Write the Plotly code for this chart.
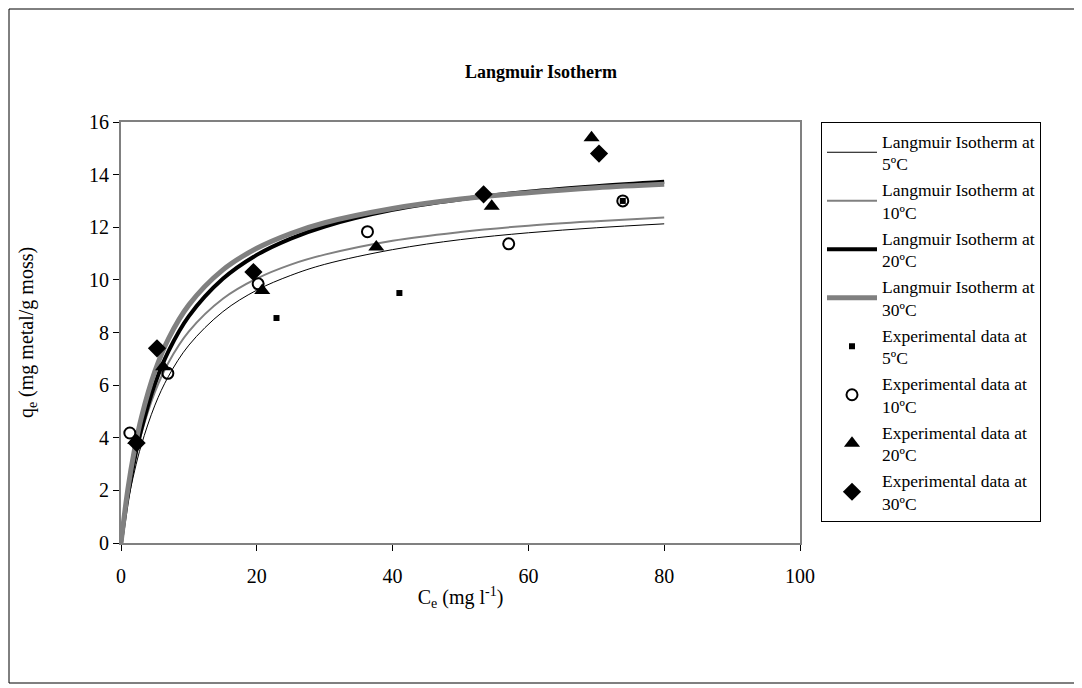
import plotly.graph_objects as go

# Langmuir fitted curves
ce_curve = [0, 1, 2, 3, 5, 7, 10, 15, 20, 25, 30, 40, 50, 60, 70, 80]
q_fit_5 = [0, 1.53, 2.74, 3.73, 5.24, 6.34, 7.52, 8.79, 9.61, 10.17, 10.59, 11.15, 11.53, 11.79, 11.98, 12.13]
q_fit_10 = [0, 1.75, 3.09, 4.16, 5.74, 6.86, 8.04, 9.28, 10.05, 10.58, 10.96, 11.49, 11.82, 12.06, 12.23, 12.37]
q_fit_20 = [0, 1.78, 3.19, 4.32, 6.05, 7.29, 8.62, 10.04, 10.95, 11.57, 12.03, 12.66, 13.06, 13.35, 13.56, 13.73]
q_fit_30 = [0, 2.03, 3.56, 4.77, 6.53, 7.77, 9.05, 10.38, 11.20, 11.76, 12.17, 12.71, 13.07, 13.31, 13.50, 13.63]

# Experimental data
ce_exp_5 = [22.9, 41.0, 73.9]
q_exp_5 = [8.55, 9.5, 13.0]
ce_exp_10 = [1.3, 6.9, 20.2, 36.3, 57.1, 73.9]
q_exp_10 = [4.18, 6.45, 9.85, 11.83, 11.37, 13.0]
ce_exp_20 = [2.1, 6.2, 20.8, 37.6, 54.6, 69.3]
q_exp_20 = [3.9, 6.7, 9.6, 11.25, 12.8, 15.4]
ce_exp_30 = [2.3, 5.3, 19.5, 53.4, 70.4]
q_exp_30 = [3.8, 7.4, 10.3, 13.25, 14.8]

x_ticks = [0, 20, 40, 60, 80, 100]
y_ticks = [0, 2, 4, 6, 8, 10, 12, 14, 16]

FONT = "Liberation Serif, Times New Roman, serif"
GRAY = "#808080"

fig = go.Figure()

fig.add_trace(go.Scatter(x=ce_curve, y=q_fit_5, mode="lines", line=dict(color="black", width=1, shape="spline"),
                         name="Langmuir Isotherm at<br>5ºC"))
fig.add_trace(go.Scatter(x=ce_curve, y=q_fit_10, mode="lines", line=dict(color=GRAY, width=2, shape="spline"),
                         name="Langmuir Isotherm at<br>10ºC"))
fig.add_trace(go.Scatter(x=ce_curve, y=q_fit_20, mode="lines", line=dict(color="black", width=4, shape="spline"),
                         name="Langmuir Isotherm at<br>20ºC"))
fig.add_trace(go.Scatter(x=ce_curve, y=q_fit_30, mode="lines", line=dict(color=GRAY, width=5, shape="spline"),
                         name="Langmuir Isotherm at<br>30ºC"))

fig.add_trace(go.Scatter(x=ce_exp_5, y=q_exp_5, mode="markers",
                         marker=dict(symbol="square", size=6, color="black"),
                         name="Experimental data at<br>5ºC"))
fig.add_trace(go.Scatter(x=ce_exp_10, y=q_exp_10, mode="markers",
                         marker=dict(symbol="circle-open", size=11, color="black", line=dict(width=2)),
                         name="Experimental data at<br>10ºC"))
fig.add_trace(go.Scatter(x=ce_exp_20, y=q_exp_20, mode="markers",
                         marker=dict(symbol="triangle-up", size=14, color="black"),
                         name="Experimental data at<br>20ºC"))
fig.add_trace(go.Scatter(x=ce_exp_30, y=q_exp_30, mode="markers",
                         marker=dict(symbol="diamond", size=14, color="black"),
                         name="Experimental data at<br>30ºC"))

# page offset of the browser's default body margin
OFF = 8
W, H = 1082 - OFF, 688 - OFF
L, R, T, B = 121 - OFF, 800 - OFF, 122 - OFF, 543 - OFF
pw, ph = R - L, B - T

def px2x(px):
    return (px - L) / pw

def py2y(py):
    return (B - py) / ph

fig.update_layout(
    width=W, height=H,
    margin=dict(l=L, r=W - R, t=T, b=H - B, autoexpand=False),
    paper_bgcolor="white", plot_bgcolor="white",
    font=dict(family=FONT, color="black", size=20),
    title=dict(text="<b>Langmuir Isotherm</b>", x=(541 - OFF) / W, xref="container", xanchor="center",
               y=1 - (72 - OFF) / H, yref="container", yanchor="middle", font=dict(size=18, family=FONT)),
    showlegend=True,
    legend=dict(x=px2x(821 - OFF), y=1.0, xref="paper", yref="paper",
                xanchor="left", yanchor="top",
                bordercolor="black", borderwidth=1, bgcolor="white",
                font=dict(size=17.5, family=FONT), tracegroupgap=0, itemwidth=50),
    xaxis=dict(range=[0, 100], tickvals=x_ticks, ticks="outside", ticklen=6, tickcolor="black",
               showline=True, linecolor=GRAY, linewidth=2, mirror=True, showgrid=False, zeroline=False,
               ticklabelstandoff=8,
               tickfont=dict(size=20), title=dict(text="C<sub>e</sub> (mg l<sup>-1</sup>)", font=dict(size=20), standoff=4)),
    yaxis=dict(range=[0, 16], tickvals=y_ticks, ticks="outside", ticklen=6, tickcolor="black",
               showline=True, linecolor=GRAY, linewidth=2, mirror=True, showgrid=False, zeroline=False,
               tickfont=dict(size=20), title=dict(text="q<sub>e</sub> (mg metal/g moss)", font=dict(size=20), standoff=50)),
    shapes=[dict(type="rect", xref="paper", yref="paper",
                 x0=px2x(1), x1=px2x(1077 - OFF), y0=py2y(683 - OFF), y1=py2y(1),
                 line=dict(color="black", width=1), layer="below")],
)

fig.write_html("out.html")
